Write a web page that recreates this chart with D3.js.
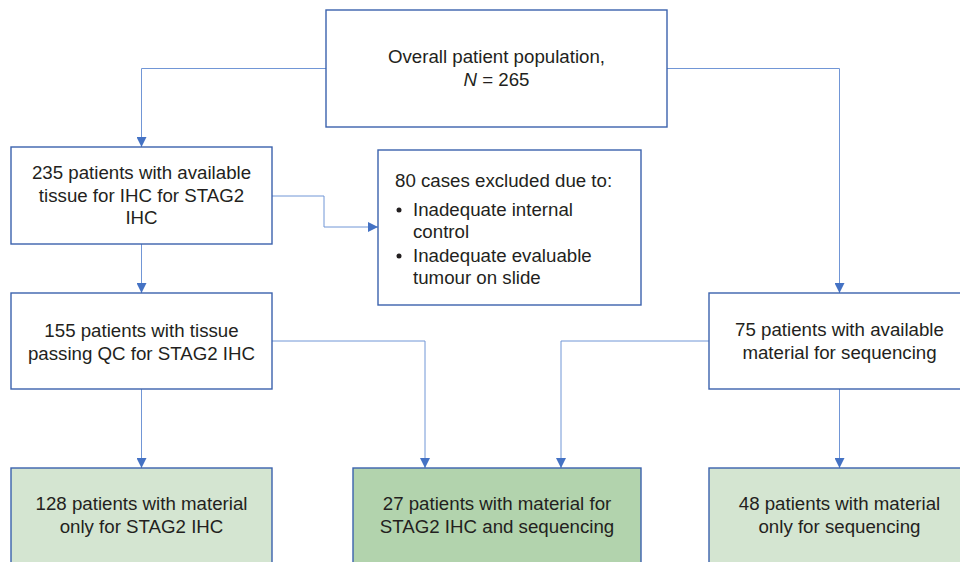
<!DOCTYPE html>
<html>
<head>
<meta charset="utf-8">
<script src="https://cdn.jsdelivr.net/npm/d3@7"></script>
<style>
  body { margin: 0; background: #fff; }
  svg { display: block; }
  text { font-family: "Liberation Sans", Arial, sans-serif; font-size: 18.7px; fill: #231f20; }
</style>
</head>
<body>
<div id="chart"></div>
<script>
const w = 960;
const h = 562;

// node ids, text and counts
const nodeIds = ["all", "ihc", "excl", "qc", "seq", "onlyIhc", "both", "onlySeq"];
const nodeCounts = [265, 235, 80, 155, 75, 128, 27, 48];
const nodeLines = [
  ["Overall patient population,", "N = 265"],
  ["235 patients with available", "tissue for IHC for STAG2", "IHC"],
  ["80 cases excluded due to:"],
  ["155 patients with tissue", "passing QC for STAG2 IHC"],
  ["75 patients with available", "material for sequencing"],
  ["128 patients with material", "only for STAG2 IHC"],
  ["27 patients with material for", "STAG2 IHC and sequencing"],
  ["48 patients with material", "only for sequencing"]
];
const exclusionReasons = [["Inadequate internal", "control"], ["Inadequate evaluable", "tumour on slide"]];
const links = [
  ["all", "ihc"], ["all", "seq"], ["ihc", "excl"], ["ihc", "qc"],
  ["qc", "onlyIhc"], ["qc", "both"], ["seq", "both"], ["seq", "onlySeq"]
];

// layout (positions / sizes)
const boxes = {
  all:     { x0: 326, x1: 667, y0: 10,  y1: 127, fill: "#fff" },
  ihc:     { x0: 11,  x1: 272, y0: 147, y1: 244, fill: "#fff" },
  excl:    { x0: 378, x1: 641, y0: 150, y1: 305, fill: "#fff" },
  qc:      { x0: 11,  x1: 272, y0: 293, y1: 389, fill: "#fff" },
  seq:     { x0: 709, x1: 970, y0: 293, y1: 389, fill: "#fff" },
  onlyIhc: { x0: 11,  x1: 272, y0: 468, y1: 580, fill: "#d4e5d1" },
  both:    { x0: 353, x1: 641, y0: 468, y1: 580, fill: "#b2d3ad" },
  onlySeq: { x0: 709, x1: 970, y0: 468, y1: 580, fill: "#d4e5d1" }
};
const textTop = { all: 63, ihc: 179, qc: 337, seq: 336, onlyIhc: 510, both: 510, onlySeq: 510 };
const lineH = 22.5;

const svg = d3.select("#chart").append("svg").attr("width", w).attr("height", h);

svg.append("defs").append("marker")
  .attr("id", "arrow")
  .attr("viewBox", "0 0 10 10")
  .attr("refX", 10).attr("refY", 5)
  .attr("markerWidth", 10).attr("markerHeight", 10)
  .attr("markerUnits", "userSpaceOnUse")
  .attr("orient", "auto")
  .append("path").attr("d", "M0,0 L10,5 L0,10 Z").attr("fill", "#4472c4");

const cx = b => (b.x0 + b.x1) / 2;

// connector paths (elbow)
function linkPath(s, t) {
  const a = boxes[s], b = boxes[t];
  const p = d3.path();
  if (s === "ihc" && t === "excl") {
    const y = 196, mx = 324, y2 = 227;
    p.moveTo(a.x1, y); p.lineTo(mx, y); p.lineTo(mx, y2); p.lineTo(b.x0, y2);
  } else if (cx(a) === cx(b)) {
    p.moveTo(cx(a), a.y1); p.lineTo(cx(b), b.y0);
  } else if (a.y0 === 10) {
    const y = 68.5, sx = cx(b) < cx(a) ? a.x0 : a.x1;
    p.moveTo(sx, y); p.lineTo(cx(b), y); p.lineTo(cx(b), b.y0);
  } else {
    const y = 341;
    const tx = s === "qc" ? 425 : 561;
    const sx = tx > cx(a) ? a.x1 : a.x0;
    p.moveTo(sx, y); p.lineTo(tx, y); p.lineTo(tx, b.y0);
  }
  return p.toString();
}

svg.append("g").selectAll("path")
  .data(links)
  .join("path")
  .attr("d", d => linkPath(d[0], d[1]))
  .attr("fill", "none")
  .attr("stroke", "#7196d6")
  .attr("stroke-width", 1)
  .attr("marker-end", "url(#arrow)");

const nodes = nodeIds.map((id, i) => ({ id, count: nodeCounts[i], lines: nodeLines[i], box: boxes[id] }));

const g = svg.append("g").selectAll("g").data(nodes).join("g");

g.append("rect")
  .attr("x", d => d.box.x0).attr("y", d => d.box.y0)
  .attr("width", d => d.box.x1 - d.box.x0).attr("height", d => d.box.y1 - d.box.y0)
  .attr("fill", d => d.box.fill)
  .attr("stroke", "#3b62ad")
  .attr("stroke-width", 1.4);

// centered labels
g.filter(d => d.id !== "excl").each(function(d) {
  const t = d3.select(this).append("text").attr("text-anchor", "middle");
  d.lines.forEach((line, i) => {
    const ts = t.append("tspan").attr("x", cx(d.box)).attr("y", textTop[d.id] + i * lineH);
    if (line.startsWith("N = ")) {
      ts.append("tspan").attr("font-style", "italic").text("N");
      ts.append("tspan").text(line.slice(1));
    } else {
      ts.text(line);
    }
  });
});

// exclusion box: heading plus bullets
const ex = boxes.excl;
const exG = g.filter(d => d.id === "excl");
exG.append("text").attr("x", ex.x0 + 17).attr("y", 187).text(d => d.lines[0]);
const bulletTop = [216, 262];
exclusionReasons.forEach((reason, k) => {
  exG.append("circle").attr("cx", ex.x0 + 21).attr("cy", bulletTop[k] - 6).attr("r", 2.5).attr("fill", "#231f20");
  const t = exG.append("text");
  reason.forEach((line, i) => {
    t.append("tspan").attr("x", ex.x0 + 35).attr("y", bulletTop[k] + i * 22).text(line);
  });
});
</script>
</body>
</html>
